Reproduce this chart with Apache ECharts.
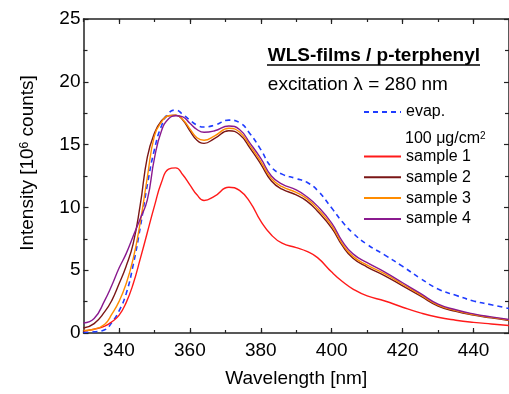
<!DOCTYPE html>
<html><head><meta charset="utf-8">
<script src="https://cdn.jsdelivr.net/npm/echarts@6/dist/echarts.min.js"></script>
<style>html,body{margin:0;padding:0;background:#fff}#c{width:509px;height:394px}</style>
</head><body><div id="c"></div>
<script>
// ---- data ----
const wavelengths = [330,333,336,338,340,342,344,346,348,350,352,354,356,358,360,362,364,367,371,374,377,380,383,386,390,393,396,400,403,406,410,415,420,425,430,435,440,445,450];
const evap    = [0.05,0.1,0.25,0.85,1.75,3.1,5.4,8.4,11.8,14.6,16.5,17.5,17.75,17.4,16.95,16.55,16.4,16.55,16.95,16.75,15.85,14.6,13.2,12.65,12.3,12.0,11.35,9.95,8.85,7.95,7.05,6.2,5.3,4.35,3.5,3.0,2.55,2.25,1.95];
const sample1 = [0.15,0.3,0.55,0.9,1.4,2.4,3.9,5.9,8.0,10.1,12.0,13.05,13.15,12.6,11.8,11.0,10.55,10.9,11.6,11.35,10.4,8.9,7.8,7.15,6.8,6.5,6.0,4.85,4.1,3.5,2.95,2.55,2.05,1.6,1.25,1.02,0.85,0.72,0.6];
const sample2 = [0.4,0.75,1.7,2.6,3.9,5.3,7.1,10.2,14.0,15.9,16.9,17.3,17.35,16.95,16.1,15.35,15.1,15.5,16.1,15.8,14.7,13.45,12.1,11.45,11.0,10.5,9.7,8.35,6.95,5.95,5.25,4.55,3.75,2.95,2.15,1.72,1.42,1.2,1.0];
const sample3 = [0.2,0.3,0.7,1.5,2.5,3.9,5.9,8.8,12.4,15.7,16.8,17.3,17.35,17.0,16.25,15.55,15.35,15.7,16.3,16.0,14.9,13.65,12.3,11.65,11.2,10.7,9.9,8.55,7.1,6.1,5.4,4.7,3.88,3.05,2.22,1.78,1.47,1.24,1.03];
const sample4 = [0.8,1.15,2.6,3.8,5.15,6.3,7.7,9.1,10.6,13.9,16.1,17.05,17.3,17.2,16.7,16.2,15.98,16.1,16.48,16.2,15.1,13.9,12.5,11.85,11.4,10.85,10.1,8.75,7.3,6.3,5.6,4.85,4.0,3.15,2.3,1.85,1.52,1.28,1.07];
const xTickLabels = [340,360,380,400,420,440];
const seriesNames = ['evap.','sample 1','sample 2','sample 3','sample 4'];
const seriesColors = ['#1f3cff','#ff1a1a','#7a1616','#ff8c00','#8a1a8f'];

// ---- chart ----
const FONT = '"Liberation Sans", Arial, Helvetica, sans-serif';
const AX = '#222';
const pairs = arr => wavelengths.map((w, i) => [w, arr[i]]);
const allValues = [evap, sample1, sample2, sample3, sample4];

const baseX = {
  type: 'value', min: 330, max: 450, splitLine: {show: false},
  axisLine: {lineStyle: {color: AX, width: 1.5}},
  axisLabel: {show: false}
};
const baseY = {
  type: 'value', min: 0, max: 25, interval: 5, splitLine: {show: false},
  axisLine: {lineStyle: {color: AX, width: 1.5}},
  axisTick: {inside: true, length: 5, lineStyle: {color: AX, width: 1.2}},
  minorTick: {show: true, splitNumber: 2, length: 4, lineStyle: {color: AX, width: 1.2}}
};

const chart = echarts.init(document.getElementById('c'));
chart.setOption({
  animation: false,
  backgroundColor: '#fff',
  grid: {left: 83.5, right: -1, top: 19, bottom: 61},
  title: {
    text: 'WLS-films / p-terphenyl', subtext: 'excitation λ = 280 nm',
    right: 29, top: 46, itemGap: 10, padding: 0,
    textStyle: {fontSize: 19, fontWeight: 'bold', color: '#000', fontFamily: FONT},
    subtextStyle: {fontSize: 19, color: '#000', fontFamily: FONT}
  },
  legend: [
    {data: ['evap.'], orient: 'vertical', left: 363, top: 104, padding: 0,
     itemWidth: 37, itemHeight: 14, itemStyle: {opacity: 0},
     textStyle: {fontSize: 16, color: '#000', fontFamily: FONT}},
    {data: ['sample 1','sample 2','sample 3','sample 4'], orient: 'vertical', left: 363, top: 148.5, padding: 0,
     itemWidth: 37, itemHeight: 14, itemGap: 4.8, itemStyle: {opacity: 0},
     textStyle: {fontSize: 16, color: '#000', fontFamily: FONT}}
  ],
  graphic: [
    {type: 'line', shape: {x1: 267, y1: 65, x2: 480, y2: 65}, style: {stroke: '#000', lineWidth: 1.5}},
    {type: 'text', left: 405, top: 131,
     style: {text: '100 μg/cm{s|2}', fill: '#000', font: '16px ' + FONT,
             rich: {s: {fontSize: 10, verticalAlign: 'top', fontFamily: FONT, fill: '#000'}}}}
  ],
  xAxis: [
    Object.assign({}, baseX, {position: 'bottom', interval: 10,
      axisTick: {inside: true, length: 3, lineStyle: {color: AX, width: 1.2}},
      name: 'Wavelength [nm]', nameLocation: 'middle', nameGap: 36,
      nameTextStyle: {fontSize: 19, color: '#000', fontFamily: FONT}}),
    Object.assign({}, baseX, {position: 'bottom', axisLine: {show: false},
      axisTick: {inside: true, length: 5, customValues: xTickLabels, lineStyle: {color: AX, width: 1.2}},
      axisLabel: {show: true, customValues: xTickLabels, fontSize: 19, margin: 8, color: '#000', fontFamily: FONT}}),
    Object.assign({}, baseX, {position: 'top', interval: 10,
      axisTick: {inside: true, length: 3, lineStyle: {color: AX, width: 1.2}}}),
    Object.assign({}, baseX, {position: 'top', axisLine: {show: false},
      axisTick: {inside: true, length: 5, customValues: xTickLabels, lineStyle: {color: AX, width: 1.2}}})
  ],
  yAxis: [
    Object.assign({}, baseY, {position: 'left',
      axisLabel: {fontSize: 19, margin: 3, color: '#000', fontFamily: FONT},
      name: 'Intensity [10{s|6} counts]', nameLocation: 'middle', nameGap: 46,
      nameTextStyle: {fontSize: 19, color: '#000', fontFamily: FONT, padding: [0, 0, 0, 26],
        rich: {s: {fontSize: 12, verticalAlign: 'top', fontFamily: FONT, color: '#000'}}}}),
    Object.assign({}, baseY, {position: 'right', axisLabel: {show: false}})
  ],
  series: seriesNames.map((n, k) => ({
    name: n, type: 'line', xAxisIndex: 0, yAxisIndex: 0,
    data: pairs(allValues[k]), smooth: 0.5, symbol: 'none', z: 2 + k,
    lineStyle: {color: seriesColors[k], width: k === 0 ? 1.6 : 1.4, type: k === 0 ? [5, 4] : 'solid'},
    itemStyle: {color: seriesColors[k]}
  }))
});
</script></body></html>
